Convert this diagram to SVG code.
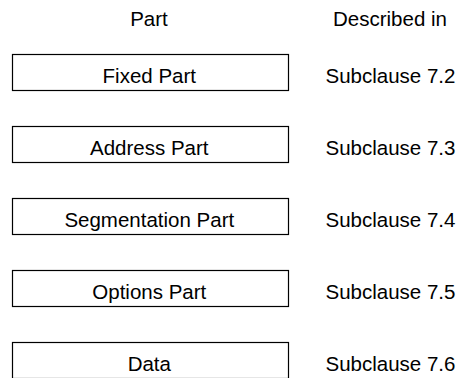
<svg xmlns="http://www.w3.org/2000/svg" width="459" height="378" viewBox="0 0 459 378">
<style>
.box{fill:#fff;stroke:#000;stroke-width:1.2}
.t{font-family:"Liberation Sans",Arial,sans-serif;font-size:20.5px;fill:#000}
.c{text-anchor:middle}
</style>
<rect width="459" height="378" fill="#fff"/>
<g id="headers">
<text class="t c" x="149" y="25.5">Part</text>
<text class="t" x="333" y="26">Described in</text>
</g>
<g id="connectors"/>
<g id="fixed">
<rect class="box" x="12.5" y="54.5" width="276" height="36"/>
<text class="t c" x="149.3" y="83.3">Fixed Part</text>
<text class="t" x="325.5" y="83.3">Subclause 7.2</text>
</g>
<g id="address">
<rect class="box" x="12.5" y="126.5" width="276" height="36"/>
<text class="t c" x="149.3" y="155.3">Address Part</text>
<text class="t" x="325.5" y="155.3">Subclause 7.3</text>
</g>
<g id="segmentation">
<rect class="box" x="12.5" y="198.5" width="276" height="36"/>
<text class="t c" x="149.3" y="227.3">Segmentation Part</text>
<text class="t" x="325.5" y="227.3">Subclause 7.4</text>
</g>
<g id="options">
<rect class="box" x="12.5" y="270.5" width="276" height="36"/>
<text class="t c" x="149.3" y="299.3">Options Part</text>
<text class="t" x="325.5" y="299.3">Subclause 7.5</text>
</g>
<g id="data">
<rect class="box" x="12.5" y="342.5" width="276" height="36"/>
<text class="t c" x="149.3" y="371.3">Data</text>
<text class="t" x="325.5" y="371.3">Subclause 7.6</text>
</g>
</svg>
